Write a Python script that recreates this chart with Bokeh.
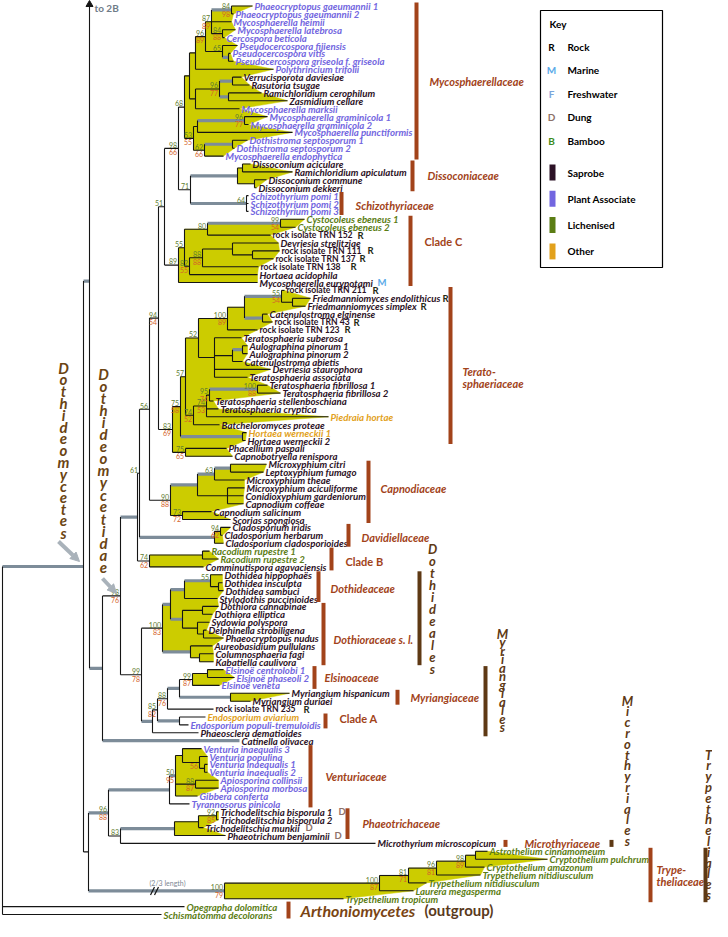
from bokeh.plotting import figure
from bokeh.models import Range1d, ColumnDataSource, Arrow, NormalHead
from bokeh.core.properties import value
from bokeh.embed import file_html
from bokeh.resources import INLINE

# ============================ DATA ============================
LEAF_NAMES = [
    "Phaeocryptopus gaeumannii 1", "Phaeocryptopus gaeumannii  2", "Mycosphaerella heimii",
    "Mycosphaerella latebrosa", "Cercospora beticola", "Pseudocercospora fijiensis",
    "Pseudocercospora vitis", "Pseudocercospora griseola f. griseola", "Polythrincium trifolii",
    "Verrucisporota daviesiae", "Rasutoria tsugae", "Ramichloridium cerophilum", "Zasmidium cellare",
    "Mycosphaerella marksii", "Mycosphaerella graminicola 1", "Mycosphaerella graminicola 2",
    "Mycosphaerella punctiformis", "Dothistroma septosporum 1", "Dothistroma septosporum 2",
    "Mycosphaerella endophytica",
    "Dissoconium aciculare", "Ramichloridium apiculatum", "Dissoconium commune", "Dissoconium dekkeri",
    "Schizothyrium pomi 1", "Schizothyrium pomi 2", "Schizothyrium pomi 3",
    "Cystocoleus ebeneus 1", "Cystocoleus ebeneus 2", "rock isolate TRN 152", "Devriesia strelitziae",
    "rock isolate TRN 111", "rock isolate TRN 137", "rock isolate TRN 138", "Hortaea acidophila",
    "Mycosphaerella eurypotami",
    "rock isolate TRN 211", "Friedmanniomyces endolithicus", "Friedmanniomyces simplex",
    "Catenulostroma elginense", "rock isolate TRN 43", "rock isolate TRN 123", "Teratosphaeria suberosa",
    "Aulographina pinorum 1", "Aulographina pinorum 2", "Catenulostroma abietis", "Devriesia staurophora",
    "Teratosphaeria associata", "Teratosphaeria fibrillosa  1", "Teratosphaeria fibrillosa 2",
    "Teratosphaeria stellenboschiana", "Teratosphaeria cryptica", "Piedraia hortae",
    "Batcheloromyces proteae", "Hortaea werneckii  1", "Hortaea werneckii 2", "Phacellium paspali",
    "Capnobotryella renispora",
    "Microxyphium citri", "Leptoxyphium fumago", "Microxyphium theae", "Microxyphium aciculiforme",
    "Conidioxyphium gardeniorum", "Capnodium coffeae", "Capnodium salicinum", "Scorias spongiosa",
    "Cladosporium iridis", "Cladosporium herbarum", "Cladosporium cladosporioides",
    "Racodium rupestre 1", "Racodium rupestre 2", "Comminutispora agavaciensis",
    "Dothidea hippophaës", "Dothidea insculpta", "Dothidea sambuci", "Stylodothis puccinioides",
    "Dothiora cannabinae", "Dothiora elliptica", "Sydowia polyspora", "Delphinella strobiligena",
    "Phaeocryptopus nudus", "Aureobasidium pullulans", "Columnosphaeria fagi", "Kabatiella caulivora",
    "Elsinoë centrolobi  1", "Elsinoë phaseoli  2", "Elsinoë veneta", "Myriangium hispanicum",
    "Myriangium duriaei", "rock isolate TRN 235", "Endosporium aviarium",
    "Endosporium populi-tremuloidis", "Phaeosclera dematioides", "Catinella olivacea",
    "Venturia inaequalis 3", "Venturia populina", "Venturia inaequalis 1", "Venturia inaequalis 2",
    "Apiosporina collinsii", "Apiosporina morbosa", "Gibbera conferta", "Tyrannosorus pinicola",
    "Trichodelitschia bisporula 1", "Trichodelitschia bisporula 2", "Trichodelitschia munkii",
    "Phaeotrichum benjaminii", "Microthyrium microscopicum",
    "Astrothelium cinnamomeum", "Cryptothelium pulchrum", "Cryptothelium amazonum",
    "Trypethelium nitidiusculum", "Trypethelium nitidiusculum", "Laurera megasperma",
    "Trypethelium tropicum",
    "Opegrapha dolomitica", "Schismatomma decolorans",
]

# S saprobe, P plant associate, L lichenised, O other
LEAF_LIFESTYLE = list(
    "PPPPPPPPP" "SSSS" "PPPPPPP" "SSSS" "PPP" "LL" "SSSSSSS"
    "SSSSSSSSSSSSSSSS" "O" "S" "O" "SSS"
    "SSSSSSSSSSS" "LL" "S" "SSSSSSSSSSSS"
    "PPP" "SSS" "O" "P" "SS" "PPPPPPPP" "SSSSS" "LLLLLLLLL"
)

# habitat tags (R rock, M marine, D dung)
LEAF_HABITAT = {29: "R", 31: "R", 32: "R", 33: "R", 35: "M", 36: "R", 37: "R", 38: "R",
                40: "R", 41: "R", 89: "R", 102: "D", 104: "D", 105: "D"}

# cumulative depth of each tip (branch-length scale)
LEAF_TIP = [
    260, 241, 239, 243, 232, 245, 238, 241, 281,
    249, 257, 269, 295, 247, 275, 256, 300, 255, 242, 231,
    258, 300, 274, 264,
    256, 256, 256,
    312, 303, 278, 286, 287, 281, 266, 265, 265,
    292, 318, 313, 275, 280, 265, 249, 255, 255, 250, 278, 255, 275, 288, 221, 226, 336, 227, 254, 253, 234, 240,
    274, 271, 252, 252, 251, 251, 219, 238,
    238, 230, 231,
    217, 226, 211,
    230, 230, 231, 225, 226, 220, 217, 214, 231, 220, 221, 221,
    231, 242, 227, 297, 258, 221, 213, 196, 206, 247,
    209, 215, 215, 215, 226, 226, 205, 197,
    226, 226, 211, 233, 383,
    495, 555, 492, 488, 434, 421, 351,
    192, 169,
]

LEAF_PARENT = [
    "M1", "M1", "MB1", "MC", "MC", "MP", "MP2", "MP2", "MA",
    "MV2", "MV2", "MV3", "MV3", "MW", "MG2", "MG2", "MG", "MD2", "MD2", "MD",
    "DS2", "DS2", "DS3", "DS3",
    "SZ", "SZ", "SZ",
    "CYS", "CYS", "CC2", "CC5", "CC6", "CC6", "CC4", "CC3", "CC",
    "FN", "FF", "FF", "T8B", "T8B", "T8", "T9", "T9B", "T9B", "T9A", "T9", "T9", "TFIB", "TFIB",
    "T6", "T5", "T5", "T4", "HW", "HW", "PHAC", "PHAC",
    "CPA", "CPA", "CP3", "CP4", "CP4", "CP4", "CP2", "CP2",
    "DV1", "DV1", "DAV",
    "CB1", "CB1", "CB",
    "DD1", "DD2", "DD2", "DD", "DR2", "DR2", "DR3", "DR4", "DR4", "DR5", "DR6", "DR6",
    "E1", "E1", "ELS", "MYG", "MYG", "MY2", "ENDO", "ENDO", "MYR", "P",
    "VG", "VG2", "VG3", "VG3", "AP", "AP", "VC", "VEN",
    "TB", "TB", "TG", "PT", "M",
    "TRY6", "TRY6", "TRY5", "TRY4", "TRY3", "TRY2", "TRY",
    "root", "root",
]

NODE_NAMES = [
    "root", "DOTH", "UPPER", "P", "N98", "NB", "N61", "N56", "N94", "N51", "MDS",
    "MYC", "MTOP", "MA", "MA2", "MB1", "M1", "MC", "MP", "MP2", "MW", "MV", "MV2", "MV3",
    "MBOT", "MG", "MG2", "MD", "MD2",
    "D71", "DS", "DS2", "DS3", "SZ",
    "CC", "CC1", "CC2", "CYS", "CC3", "CC4", "CC5", "CC6",
    "TER", "T1", "T2", "T3", "T8", "T8A", "FN", "FF", "T8B", "T9", "T9A", "T9B",
    "T4", "T5", "T6", "TFIB", "HW", "PHAC",
    "CAPD", "CP1", "CP3", "CPA", "CP4", "CP2",
    "DAV", "DV1", "CB", "CB1",
    "N99", "DTH", "DTHA", "DD", "DD1", "DD2", "DR1", "DR2", "DR3", "DR4", "DR5", "DR6",
    "MYR", "MYR1", "MY2", "MY3", "ELS", "E1", "MYG", "ENDO",
    "LOWER", "VP", "VEN", "VC", "VG", "VG2", "VG3", "AP", "M", "PT", "TG", "TB",
    "TRY", "TRY2", "TRY3", "TRY4", "TRY5", "TRY6",
]
NODE_PARENT = [
    None, "root", "DOTH", "UPPER", "P", "N98", "NB", "N61", "N56", "N94", "N51",
    "MDS", "MYC", "MTOP", "MA", "MA2", "MB1", "MB1", "MA2", "MP", "MTOP", "MW", "MV", "MV",
    "MYC", "MBOT", "MG", "MBOT", "MD",
    "MDS", "D71", "DS", "DS", "D71",
    "N51", "CC", "CC1", "CC2", "CC1", "CC3", "CC4", "CC5",
    "N94", "TER", "T1", "T2", "T3", "T8", "T8A", "FN", "T8A", "T3", "T9", "T9A",
    "T2", "T4", "T5", "T6", "T1", "TER",
    "N56", "CAPD", "CP1", "CP3", "CP1", "CAPD",
    "N61", "DAV", "NB", "CB",
    "N98", "N99", "DTH", "DTHA", "DD", "DD1", "DTHA", "DR1", "DR1", "DR3", "DTH", "DR5",
    "N99", "MYR", "MYR1", "MY2", "MY3", "ELS", "MY3", "MYR1",
    "DOTH", "LOWER", "VP", "VEN", "VC", "VG", "VG2", "VC", "VP", "M", "PT", "TG",
    "LOWER", "TRY", "TRY2", "TRY3", "TRY4", "TRY5",
]
NODE_DEPTH = [
    10, 91, 97, 110, 128, 145, 147, 157, 166, 172, 186,
    192, 197, 203, 213, 219, 239, 230, 230, 236, 203, 227, 240, 236,
    201, 205, 252, 212, 240,
    198, 245, 250, 262, 254,
    186, 192, 215, 288, 197, 210, 240, 260,
    180, 188, 193, 206, 235, 252, 289, 300, 270, 222, 240, 250,
    201, 214, 217, 265, 250, 193,
    178, 205, 222, 238, 235, 190,
    222, 228, 157, 210,
    149, 170, 178, 192, 218, 226, 190, 210, 205, 211, 198, 207,
    160, 165, 175, 187, 200, 215, 238, 187,
    96, 116, 177, 183, 190, 207, 212, 203, 128, 182, 206, 224,
    232, 387, 416, 444, 473, 483,
]

# lineage continued in panel 2B (row position above this panel)
CONTINUATION_PARENT = "UPPER"
CONTINUATION_ROW = -14.2

BOOT_ML = {"M1": 84, "MA2": 96, "MB1": 87, "MC": 84, "MP": 65, "MV": 96, "MYC": 68, "MG2": 96,
           "MBOT": 53, "MD": 62, "MDS": 98, "D71": 71, "SZ": 64, "N51": 51, "CC": 89, "CC1": 55,
           "CC2": 80, "CYS": 99, "CC3": 82, "CC4": 88, "N94": 94, "FN": 55, "T8": 100, "T3": 52,
           "T2": 57, "T1": 75, "T4": 74, "T5": 74, "T6": 95, "TFIB": 100, "TER": 83, "PHAC": 75,
           "N56": 56, "CAPD": 90, "CP3": 63, "CP2": 73, "N61": 61, "DV1": 94, "CB": 74, "N98": 98,
           "N99": 99, "DTH": 100, "DD1": 55, "ELS": 99, "MY2": 88, "MYR1": 85, "VP": 96, "VC": 50,
           "AP": 88, "M": 83, "TB": 92, "TRY": 100, "TRY2": 100, "TRY3": 81, "TRY4": 96, "TRY5": 98}
BOOT_BI = {"M1": 98, "MA2": 89, "MB1": 89, "MC": 88, "MV": 77, "MG2": 77, "MBOT": 55, "MD": 66,
           "MDS": 66, "CYS": 54, "CC3": 55, "CC4": 88, "N94": 54, "FN": 54, "T8": 89, "T1": 58,
           "T4": 52, "T5": 53, "T6": 74, "TFIB": 88, "TER": 69, "PHAC": 65, "CAPD": 88, "CP2": 72,
           "DV1": 62, "CB": 62, "N98": 76, "N99": 78, "DTH": 83, "ELS": 87, "MY2": 76, "MYR1": 82,
           "VP": 88, "VC": 95, "VG2": 56, "AP": 87, "TB": 85, "TRY": 79, "TRY2": 87, "TRY3": 71,
           "TRY4": 81, "TRY5": 89}

HIGHLIGHTED = ["DOTH", "UPPER", "P", "L93", "NB", "DAV", "DS", "SZ", "CYS", "M1", "MP2", "MV2",
               "MV3", "MG2", "MD2", "FN", "T8B", "T9B", "HW", "CP1", "CP3", "CPA", "DD", "DD1",
               "DR1", "DR5", "MYR", "MY3", "MYG", "ENDO", "VP", "VEN", "VC", "PT", "TRY", "DTHA",
               "TFIB"]
SHADED = ["MYC", "DS", "CC", "TER", "CAPD", "DAV", "CB", "DTH", "ELS", "MYG", "VC", "PT", "TRY"]

FAMILY_NAMES = ["Mycosphaerellaceae", "Dissoconiaceae", "Schizothyriaceae", "Clade C",
                "Terato-\nsphaeriaceae", "Capnodiaceae", "Davidiellaceae", "Clade B", "Dothideaceae",
                "Dothioraceae s. l.", "Elsinoaceae", "Myriangiaceae", "Clade A", "Venturiaceae",
                "Phaeotrichaceae", "Microthyriaceae", "Trype-\ntheliaceae"]
FAMILY_FIRST = [0, 20, 24, 27, 36, 58, 66, 69, 72, 76, 84, 87, 90, 94, 102, 106, 107]
FAMILY_LAST = [19, 23, 26, 35, 55, 65, 68, 71, 75, 83, 86, 88, 91, 101, 105, 106, 113]

ORDER_NAMES = ["Dothideales", "Myriangiales", "Microthyriales", "Trypetheliales"]
ORDER_FIRST = [72, 84, 106, 107]
ORDER_LAST = [83, 92, 106, 113]

KEY_LETTERS = ["R", "M", "F", "D", "B"]
KEY_LETTER_LABELS = ["Rock", "Marine", "Freshwater", "Dung", "Bamboo"]
KEY_LIFESTYLES = ["S", "P", "L", "O"]
KEY_LIFESTYLE_LABELS = ["Saprobe", "Plant Associate", "Lichenised", "Other"]

# ============================ STYLE / LAYOUT ============================
W, H = 712, 921
ROW0, ROW = 13.5, 7.9
FONT = value("Lato")
LEAF_SIZE = 9.7
ROCK_SIZE = 8.6
LIFE_COLOR = {"S": "#2c1226", "P": "#7266e0", "L": "#5b7d14", "O": "#e2a11c"}
TAG_COLOR = {"R": "#1e2a14", "M": "#5aaae8", "F": "#7aa6dc", "D": "#8e716a", "B": "#3d8a20"}
FILL = "#cccc00"
THIN = "#151515"
THICK = "#7d8c99"
FAM_COLOR = "#a2431a"
ORDER_COLOR = "#5e3914"
BS_GREEN = "#5f7d30"
BS_RED = "#d4632b"

FAMILY_BAR_X = [424, 420, 349, 418, 458, 376, 356, 339, 326, 331, 322, 405, 333, 318, 355, 513, 658]
FAMILY_TEXT_X = [437, 435, 363, 432, 470, 388, 369, 353, 338, 341, 332, 418, 347, 333, 370, 532, 664]
FAMILY_TEXT_DY = [0, 0, 2, -9, 12, -3, 2, 2, 2, 5, 0, 0, -2, 0, 0, 0, 0]
ORDER_BAR_X = [427, 493, 619, 713]
ORDER_TEXT = [(440, 556, 12.0), (510, 641, 8.5), (635, 708, 10.8), (716, 762, 10.8)]
TAG_X = {29: 365, 31: 375, 32: 367, 33: 358, 35: 385, 36: 380, 37: 450, 38: 428, 40: 361,
         41: 352, 89: 311, 102: 346, 104: 313, 105: 342}


def row_y(i):
    return ROW0 + ROW * i


p = figure(width=W, height=H, x_range=Range1d(8, 8 + W), y_range=Range1d(8 + H, 8),
           output_backend="svg", toolbar_location=None, min_border=0,
           x_axis_location=None, y_axis_location=None, outline_line_color=None)
p.grid.visible = False

# ---------------- tree geometry ----------------
kids = {n: [] for n in NODE_NAMES}
X, Y = {}, {}
for i, par in enumerate(LEAF_PARENT):
    k = ("L", i)
    kids[par].append(k)
    X[k] = LEAF_TIP[i]
    Y[k] = row_y(i)
for n, par, d in zip(NODE_NAMES, NODE_PARENT, NODE_DEPTH):
    X[("N", n)] = d
    if par is not None:
        kids[par].append(("N", n))
cont = ("C", 0)
kids[CONTINUATION_PARENT].append(cont)
X[cont] = NODE_DEPTH[NODE_NAMES.index(CONTINUATION_PARENT)]
Y[cont] = row_y(CONTINUATION_ROW)


def gy(k):
    if k not in Y:
        ys = [gy(c) for c in kids[k[1]]]
        Y[k] = (min(ys) + max(ys)) / 2.0
    return Y[k]


for n in NODE_NAMES:
    gy(("N", n))
for n in NODE_NAMES:
    kids[n].sort(key=lambda c: Y[c])


def kname(k):
    if k[0] == "N":
        return k[1]
    if k[0] == "L":
        return "L%d" % k[1]
    return "C"


def leaves_under(k):
    if k[0] == "L":
        return [k]
    if k[0] == "C":
        return []
    out = []
    for c in kids[k[1]]:
        out += leaves_under(c)
    return out


def chain(k, idx):
    pts = []
    cur = k
    while cur[0] == "N":
        c = kids[cur[1]][idx]
        pts += [(X[cur], Y[c]), (X[c], Y[c])]
        cur = c
    return pts


# shaded clades
pxs, pys = [], []
for n in SHADED:
    k = ("N", n)
    pts = chain(k, 0) + [(X[l], Y[l]) for l in leaves_under(k)] + chain(k, -1)[::-1]
    pxs.append([q[0] for q in pts])
    pys.append([q[1] for q in pts])
p.patches(pxs, pys, fill_color=FILL, line_color=FILL, line_width=0.5)

hl = set(HIGHLIGHTED)
thin = dict(x0=[], y0=[], x1=[], y1=[])
thick = dict(x0=[], y0=[], x1=[], y1=[])


def add(d, a, b, c, e):
    d["x0"].append(a); d["y0"].append(b); d["x1"].append(c); d["y1"].append(e)


for n in NODE_NAMES:
    k = ("N", n)
    ys = [Y[c] for c in kids[n]]
    add(thin, X[k], min(ys), X[k], max(ys))
    for c in kids[n]:
        if c[0] == "C":
            continue
        add(thick if kname(c) in hl else thin, X[k], Y[c], X[c], Y[c])

p.segment(x0="x0", y0="y0", x1="x1", y1="y1", source=ColumnDataSource(thick),
          line_color=THICK, line_width=3.2)
p.segment(x0="x0", y0="y0", x1="x1", y1="y1", source=ColumnDataSource(thin),
          line_color=THIN, line_width=1.1)

# continuation arrow "to 2B"
p.scatter([X[cont]], [12], marker="triangle", size=7, color=THIN)
p.text([X[cont] + 5], [15], text=["to 2B"], text_font=FONT, text_font_size="10px",
       text_font_style="bold", text_color="#6f7c88", text_baseline="middle")

# long-branch break on Trypetheliaceae stem
ytry = Y[("N", "TRY")]
p.segment([158, 162], [ytry + 4, ytry + 4], [162, 166], [ytry - 4, ytry - 4],
          line_color=THIN, line_width=1.2)
p.text([157], [ytry - 8], text=["(2/3 length)"], text_font=FONT, text_font_size="7px",
       text_color="#7d8893", text_baseline="middle")

# bootstrap values
bx, by, bt = [], [], []
for n, v in BOOT_ML.items():
    bx.append(X[("N", n)] - 1.5); by.append(Y[("N", n)] - 0.6); bt.append(str(v))
p.text(bx, by, text=bt, text_font=FONT, text_font_size="7px", text_color=BS_GREEN,
       text_align="right", text_baseline="bottom")
bx, by, bt = [], [], []
for n, v in BOOT_BI.items():
    bx.append(X[("N", n)] - 1.5); by.append(Y[("N", n)] + 0.8); bt.append(str(v))
p.text(bx, by, text=bt, text_font=FONT, text_font_size="7px", text_color=BS_RED,
       text_align="right", text_baseline="top")

# leaf labels (rock isolates upright, taxa italic)
for upright in (False, True):
    idx = [i for i, n in enumerate(LEAF_NAMES) if n.startswith("rock") == upright]
    src = ColumnDataSource(dict(
        x=[LEAF_TIP[i] + 2 for i in idx], y=[row_y(i) for i in idx],
        t=[LEAF_NAMES[i] for i in idx], c=[LIFE_COLOR[LEAF_LIFESTYLE[i]] for i in idx]))
    p.text(x="x", y="y", text="t", text_color="c", source=src, text_font=FONT,
           text_font_size="%.1fpx" % (ROCK_SIZE if upright else LEAF_SIZE),
           text_font_style="bold" if upright else "bold italic", text_baseline="middle")

tx, ty, tt, tc = [], [], [], []
for i, tag in LEAF_HABITAT.items():
    tx.append(TAG_X[i]); ty.append(row_y(i)); tt.append(tag); tc.append(TAG_COLOR[tag])
p.text(tx, ty, text=tt, text_color=tc, text_font=FONT, text_font_size="9.5px",
       text_font_style="bold", text_baseline="middle")

# family bars and labels
for name, f, l, bxp, txp, dy in zip(FAMILY_NAMES, FAMILY_FIRST, FAMILY_LAST, FAMILY_BAR_X,
                                    FAMILY_TEXT_X, FAMILY_TEXT_DY):
    y0, y1 = row_y(f) - 3.5, row_y(l) + 3.5
    p.segment([bxp], [y0], [bxp], [y1], line_color=FAM_COLOR, line_width=4)
    style = "bold" if name.startswith("Clade") else "bold italic"
    lines = name.split("\n")
    yc = (y0 + y1) / 2 + dy
    for j, ln in enumerate(lines):
        yy = yc + (j - (len(lines) - 1) / 2) * 12
        p.text([txp], [yy], text=[ln], text_font=FONT, text_font_size="11px",
               text_font_style=style, text_color=FAM_COLOR, text_baseline="middle")

# order bars and stacked labels
for name, f, l, bxp, (ox, oy, st) in zip(ORDER_NAMES, ORDER_FIRST, ORDER_LAST, ORDER_BAR_X,
                                          ORDER_TEXT):
    y0, y1 = row_y(f) - 3.5, row_y(l) + 3.5
    p.segment([bxp], [y0], [bxp], [y1], line_color=ORDER_COLOR, line_width=4)
    p.text([ox] * len(name), [oy + j * st for j in range(len(name))], text=list(name),
           text_font=FONT, text_font_size="13px", text_font_style="bold italic",
           text_color=ORDER_COLOR, text_align="center", text_baseline="middle")

# outgroup label
yo0, yo1 = row_y(114) - 5, row_y(115) + 4
p.segment([296], [yo0], [296], [yo1], line_color=FAM_COLOR, line_width=4)
p.text([308], [(yo0 + yo1) / 2], text=["Arthoniomycetes"], text_font=FONT,
       text_font_size="16px", text_font_style="bold italic", text_color="#7a4514",
       text_baseline="middle")
p.text([432], [(yo0 + yo1) / 2], text=["(outgroup)"], text_font=FONT,
       text_font_size="15px", text_font_style="bold", text_color="#5a3a1c",
       text_baseline="middle")

# class / subclass labels
for word, x0, y0, st in [("Dothideomycetes", 71, 375, 11.8), ("Dothideomycetidae", 111, 381, 12.1)]:
    p.text([x0] * len(word), [y0 + j * st for j in range(len(word))], text=list(word),
           text_font=FONT, text_font_size="15px", text_font_style="bold italic",
           text_color="#6b4412", text_align="center", text_baseline="middle")
for xs, ys, xe, ye in [(66, 549, 87, 569), (110, 586, 124, 601)]:
    p.add_layout(Arrow(end=NormalHead(size=9, fill_color="#a9b2ba", line_color="#a9b2ba"),
                       x_start=xs, y_start=ys, x_end=xe, y_end=ye,
                       line_color="#a9b2ba", line_width=4))

# key
p.quad(left=[548], right=[670], top=[18], bottom=[275], fill_color="white",
       line_color="black", line_width=1.2)
p.text([557], [31], text=["Key"], text_font=FONT, text_font_size="10px",
       text_font_style="bold", text_color="black", text_baseline="middle")
for j, (letter, lbl) in enumerate(zip(KEY_LETTERS, KEY_LETTER_LABELS)):
    yy = 54 + j * 23.5
    p.text([559], [yy], text=[letter], text_font=FONT, text_font_size="10px",
           text_font_style="bold", text_color="black" if letter == "R" else TAG_COLOR[letter],
           text_align="center", text_baseline="middle")
    p.text([575], [yy], text=[lbl], text_font=FONT, text_font_size="10px",
           text_font_style="bold", text_color="black", text_baseline="middle")
for j, (g, lbl) in enumerate(zip(KEY_LIFESTYLES, KEY_LIFESTYLE_LABELS)):
    yy = 180 + j * 26.3
    p.quad(left=[557], right=[563], top=[yy - 8], bottom=[yy + 8], fill_color=LIFE_COLOR[g],
           line_color=None)
    p.text([575], [yy], text=[lbl], text_font=FONT, text_font_size="10px",
           text_font_style="bold", text_color="black", text_baseline="middle")

open("out.html", "w").write(file_html(p, INLINE))
